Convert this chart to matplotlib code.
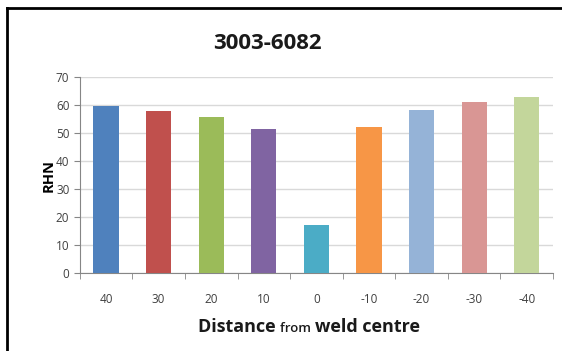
import matplotlib
matplotlib.use("Agg")
import matplotlib.pyplot as plt
import numpy as np
from matplotlib.lines import Line2D

plt.rcParams["font.family"] = ["Open Sans", "DejaVu Sans"]

distances = ["40", "30", "20", "10", "0", "-10", "-20", "-30", "-40"]
rhn = [59.7, 57.9, 55.6, 51.6, 17.2, 52.3, 58.1, 61.2, 63.0]
colors = ["#4F81BD", "#C0504D", "#9BBB59", "#8064A2", "#4BACC6",
          "#F79646", "#95B3D7", "#D99694", "#C3D69B"]

fig = plt.figure(figsize=(5.62, 3.51), dpi=100)
ax = fig.add_axes([0.142, 0.221, 0.842, 0.56])

x = np.arange(len(distances))
ax.bar(x, rhn, width=0.48, color=colors, zorder=3)

ax.set_xlim(-0.5, len(distances) - 0.5)
ax.set_ylim(0, 70)
ax.set_yticks(range(0, 71, 10))
ax.set_xticks(x)
ax.set_xticklabels(distances)
ax.set_xticks(np.arange(-0.5, len(distances), 1.0), minor=True)

grey = "#868686"
ax.yaxis.grid(True, color="#D9D9D9", linewidth=1, zorder=0)
for s in ["top", "right"]:
    ax.spines[s].set_visible(False)
ax.spines["left"].set_color(grey)
ax.spines["bottom"].set_color(grey)
ax.tick_params(axis="x", which="major", length=0, labelsize=8.5, labelcolor="#404040", pad=14)
ax.tick_params(axis="x", which="minor", length=4, color=grey)
ax.tick_params(axis="y", length=4, color=grey, labelsize=8.5, labelcolor="#404040")

ax.set_ylabel("RHN", fontsize=10.5, fontweight="bold", labelpad=0)

fig.text(0.475, 0.877, "3003-6082", ha="center", va="center",
         fontsize=16, fontweight="bold", color="#1a1a1a")

# x label with a smaller "from", all on one baseline
parts = [("Distance ", 13, "bold"), ("from ", 9.5, "semibold"), ("weld centre", 13, "bold")]
renderer = fig.canvas.get_renderer()
xpos = 0.352
for txt, size, weight in parts:
    t = fig.text(xpos, 0.055, txt, fontsize=size, fontweight=weight,
                 ha="left", va="baseline", color="#1a1a1a")
    bb = t.get_window_extent(renderer)
    xpos += bb.width / fig.bbox.width

# frame lines on top and left like the screenshot
fig.add_artist(Line2D([0.012, 0.012], [0.0, 0.978], color="black", linewidth=2,
                      transform=fig.transFigure))
fig.add_artist(Line2D([0.012, 1.0], [0.978, 0.978], color="black", linewidth=2,
                      transform=fig.transFigure))

fig.savefig("out.png", dpi=100)
